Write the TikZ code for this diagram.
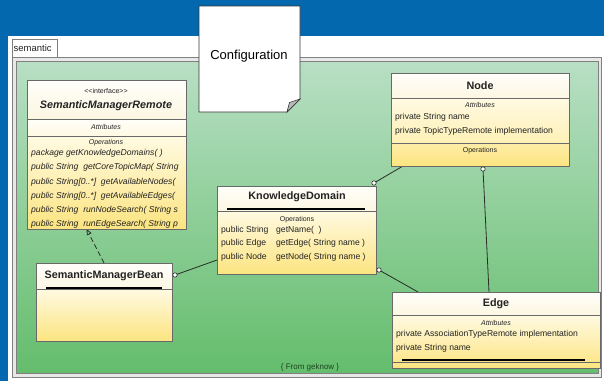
\documentclass[tikz,border=0pt]{standalone}
\usepackage{fontspec}
\setmainfont{Liberation Sans}
\usetikzlibrary{arrows.meta,calc}
\definecolor{bgblue}{RGB}{4,104,174}
\definecolor{gtop}{RGB}{184,223,196}
\definecolor{gbot}{RGB}{100,189,108}
\definecolor{framec}{RGB}{128,128,128}
\definecolor{boxline}{RGB}{105,105,105}
\definecolor{ntop}{RGB}{255,254,250}
\definecolor{nbot}{RGB}{252,247,226}
\definecolor{ctop}{RGB}{255,250,226}
\definecolor{cbot}{RGB}{252,228,128}
\definecolor{txt}{RGB}{35,35,35}
\definecolor{conn}{RGB}{40,45,40}
\newcommand\myopf{\fontsize{8.6}{10}\selectfont}
\newcommand\myclsf{\fontsize{10.8}{12}\selectfont\bfseries}
\newcommand\mylblf{\fontsize{7}{8}\selectfont}
\begin{document}
\begin{tikzpicture}[x=1pt,y=-1pt,
  area/.style={anchor=north west,inner sep=0pt,outer sep=0pt,draw=none},
  namecomp/.style={top color=ntop,bottom color=nbot,draw=boxline,line width=0.8pt},
  bodycomp/.style={top color=ctop,bottom color=cbot,draw=boxline,line width=0.8pt},
  attrcomp/.style={top color=ntop,bottom color=ctop,draw=boxline,line width=0.8pt},
  clsname/.style={font=\myclsf,text=txt,inner sep=0pt},
  lbl/.style={font=\mylblf,text=txt,inner sep=0pt},
  optext/.style={font=\myopf,text=txt,inner sep=0pt,anchor=west},
  thickbar/.style={line width=1.6pt,black},
  assoc/.style={conn,line width=0.8pt},
  endmark/.style={conn,fill=white,line width=0.6pt}
]
\useasboundingbox (0,0) rectangle (604,381);
% background
\fill[bgblue] (0,0) rectangle (604,381);
\fill[white] (8,36) rectangle (604,381);
% tab
\draw[framec,fill=white,line width=0.8pt] (12,39) rectangle (57,57);
\node[anchor=west,font=\fontsize{9.5}{11}\selectfont,text=txt,inner sep=0pt] (tabtxt) at (13.5,48) {semantic};
% package frame
\fill[gray!18] (12,57) rectangle (601,377);
\draw[framec,line width=0.8pt] (12,57) rectangle (601,377);
\shade[top color=gtop,bottom color=gbot] (16.5,61.5) rectangle (598,373);
\draw[framec,line width=0.6pt] (16.5,61.5) rectangle (598,373);
\node[font=\fontsize{8}{9}\selectfont,text=txt!85!green,inner sep=0pt] (from) at (310,367.5) {\{ From geknow \}};

% hit areas for boxes
\node[area,minimum width=159pt,minimum height=149pt] (smr) at (27,80) {};
\node[area,minimum width=159pt,minimum height=88pt] (kd) at (217,186) {};
\node[area,minimum width=178pt,minimum height=93pt] (nodebox) at (391,73) {};
\node[area,minimum width=208pt,minimum height=76pt] (edgebox) at (392,292) {};
\node[area,minimum width=136pt,minimum height=78pt] (bean) at (36,263) {};

% connectors
\draw[assoc,dash pattern=on 5pt off 3pt,-{Triangle[open,length=6pt,width=5pt]}] (bean.north) -- ([xshift=-20pt]smr.south);
\draw[assoc] ([xshift=3pt,yshift=-12pt]bean.north east) -- ([yshift=14pt]kd.south west);
\draw[assoc] ([xshift=-2pt,yshift=3pt]kd.north east) -- ([xshift=12pt]nodebox.south west);
\draw[assoc] ([xshift=3pt,yshift=-3pt]nodebox.south) -- ([xshift=-7pt]edgebox.north);
\draw[assoc] ([xshift=3pt,yshift=4pt]kd.south east) -- ([xshift=26pt]edgebox.north west);

% SemanticManagerRemote
\draw[namecomp] (27,80) rectangle (186,119);
\draw[attrcomp] (27,119) rectangle (186,136);
\draw[bodycomp] (27,136) rectangle (186,229);
\node[lbl] (smrst) at (106,91) {{<}{<}interface{>}{>}};
\node[clsname,font=\myclsf\itshape] (smrname) at (106,106) {SemanticManagerRemote};
\node[lbl,font=\mylblf\itshape] (smrattr) at (106,127) {Attributes};
\node[lbl,font=\mylblf\itshape] (smrops) at (106,143) {Operations};
\begin{scope}
\clip (27,136) rectangle (185.4,229);
\node[optext,font=\myopf\itshape] (o1) at (31,153) {package getKnowledgeDomains(\ )};
\node[optext,font=\myopf\itshape] (o2) at (31,167.5) {public String\ \ getCoreTopicMap( String};
\node[optext,font=\myopf\itshape] (o3) at (31,182) {public String[0..*]\ \ getAvailableNodes(};
\node[optext,font=\myopf\itshape] (o4) at (31,196) {public String[0..*]\ \ getAvailableEdges(};
\node[optext,font=\myopf\itshape] (o5) at (31,210.5) {public String\ \ runNodeSearch( String s};
\node[optext,font=\myopf\itshape] (o6) at (31,224.5) {public String\ \ runEdgeSearch( String p};
\end{scope}

% KnowledgeDomain
\draw[namecomp] (217,186) rectangle (376,211);
\draw[bodycomp] (217,211) rectangle (376,274);
\draw[thickbar] (227,209) -- (365,209);
\node[clsname] (kdname) at (297,197) {KnowledgeDomain};
\node[lbl] (kdops) at (297,219.5) {Operations};
\node[optext] (k1a) at (221,230) {public String};
\node[optext] (k1b) at (276,230) {getName(\ \ )};
\node[optext] (k2a) at (221,243.5) {public Edge};
\node[optext] (k2b) at (276,243.5) {getEdge( String name )};
\node[optext] (k3a) at (221,257) {public Node};
\node[optext] (k3b) at (276,257) {getNode( String name )};

% Node
\draw[namecomp] (391,73) rectangle (569,98);
\draw[bodycomp,bottom color=ctop!55!cbot] (391,98) rectangle (569,143);
\draw[bodycomp,top color=ctop!40!cbot] (391,143) rectangle (569,166);
\node[clsname] (nname) at (480,85.5) {Node};
\node[lbl,font=\mylblf\itshape] (nattr) at (480,105) {Attributes};
\node[optext] (n1) at (395,117) {private String name};
\node[optext] (n2) at (395,131) {private TopicTypeRemote implementation};
\node[lbl] (nops) at (480,151) {Operations};

% Edge
\draw[namecomp] (392,292) rectangle (600,315);
\draw[bodycomp] (392,315) rectangle (600,368);
\draw[boxline,line width=0.6pt] (392,362) -- (600,362);
\draw[thickbar] (402,360) -- (585,360);
\node[clsname] (ename) at (496,304) {Edge};
\node[lbl,font=\mylblf\itshape] (eattr) at (496,323) {Attributes};
\node[optext] (e1) at (396,334) {private AssociationTypeRemote implementation};
\node[optext] (e2) at (396,348) {private String name};

% SemanticManagerBean
\draw[namecomp] (36,263) rectangle (172,289);
\draw[bodycomp] (36,289) rectangle (172,341);
\draw[thickbar] (46,288) -- (162,288);
\node[clsname] (bname) at (104,276) {SemanticManagerBean};

% end markers
\draw[endmark] ([xshift=3pt,yshift=-12pt]bean.north east) circle[radius=2.2pt];
\draw[endmark] ([xshift=-2pt,yshift=3pt]kd.north east) circle[radius=2.2pt];
\draw[endmark] ([xshift=3pt,yshift=-3pt]nodebox.south) circle[radius=2.2pt];
\draw[endmark] ([xshift=3pt,yshift=4pt]kd.south east) circle[radius=2.2pt];

% Configuration note
\draw[fill=white,draw=black!80,line width=0.8pt] (199,6) -- (300,6) -- (300,99) -- (287,112) -- (199,112) -- cycle;
\filldraw[fill=gray!55,draw=black!80,line width=0.6pt] (300,99) -- (287,112) -- (289.5,102.5) -- cycle;
\node[font=\fontsize{13}{15}\selectfont,text=black,inner sep=0pt] (config) at (249,56) {Configuration};
\end{tikzpicture}
\end{document}
